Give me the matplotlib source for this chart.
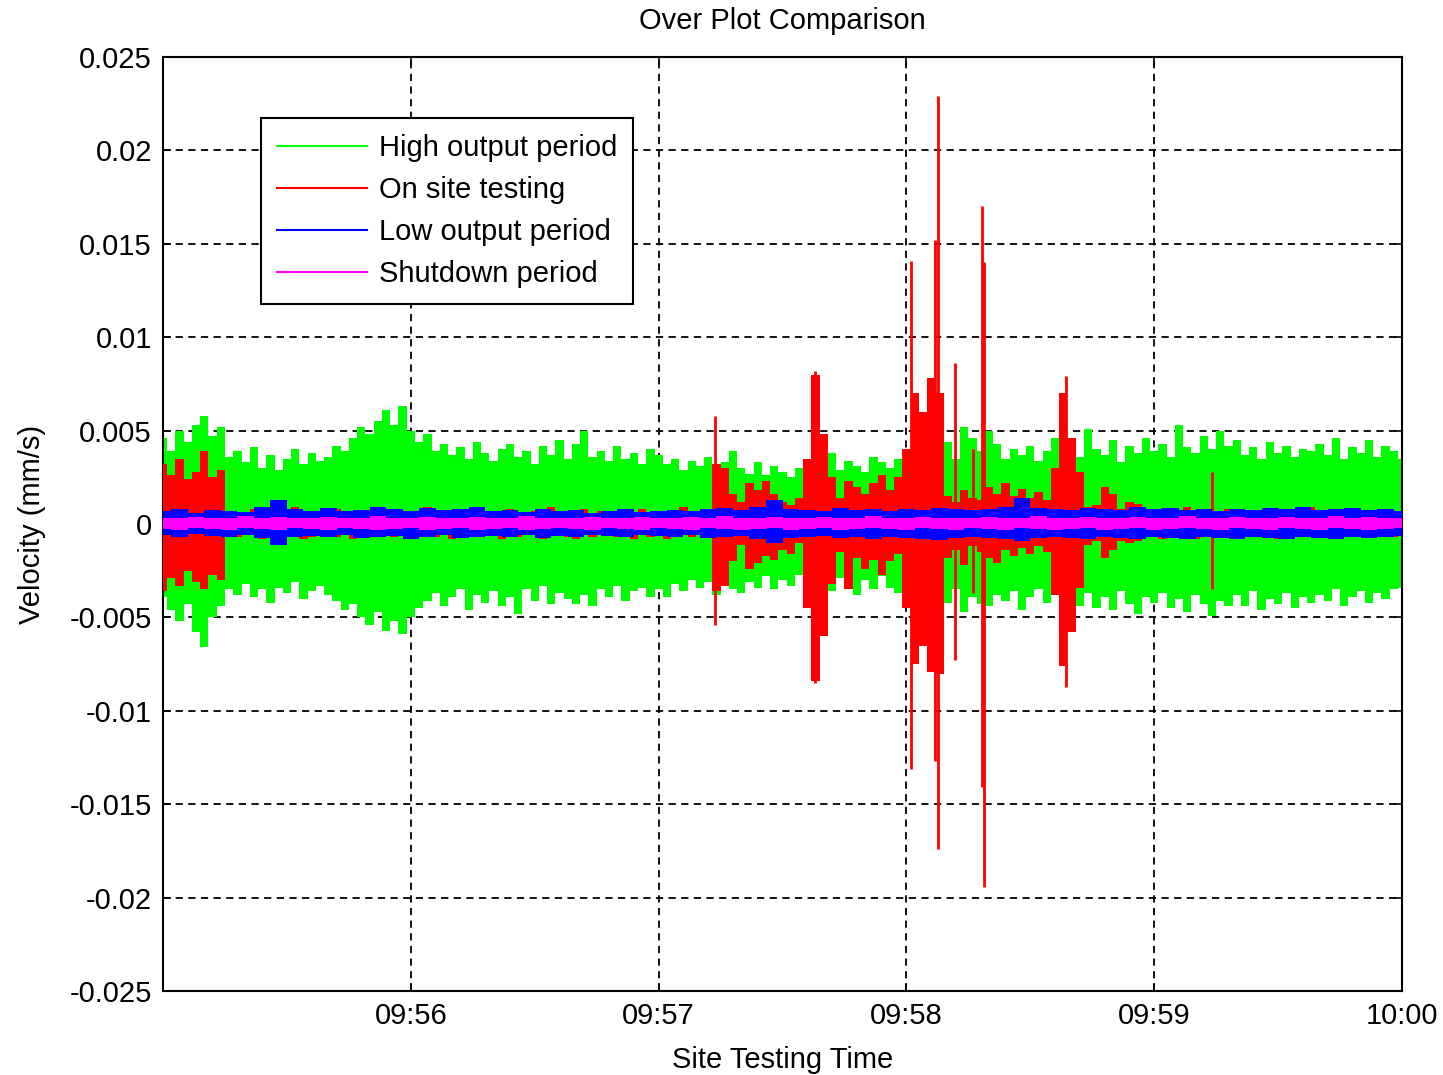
import numpy as np
import matplotlib
matplotlib.use('Agg')
import matplotlib.pyplot as plt
from matplotlib.lines import Line2D

plt.rcParams['font.family'] = ['Liberation Sans', 'DejaVu Sans']

# seconds after 09:55:00; envelopes are in units of 0.001 mm/s
t_fine = np.arange(0, 301, 2)
t_coarse = np.arange(0, 301, 4)

high_up = [4.6, 3.9, 5.0, 4.4, 5.3, 5.8, 4.7, 5.2, 3.6, 3.9,
           3.3, 4.1, 3.0, 3.7, 2.9, 3.5, 4.0, 3.2, 3.8, 3.4,
           3.6, 4.2, 3.9, 4.6, 5.2, 4.8, 5.5, 6.1, 5.3, 6.3,
           5.0, 4.4, 4.8, 3.9, 4.3, 3.7, 4.1, 3.5, 4.4, 3.8,
           3.4, 4.0, 4.3, 3.6, 3.9, 3.2, 4.2, 3.7, 4.5, 3.5,
           4.3, 5.0, 3.6, 3.9, 3.4, 4.2, 3.5, 3.8, 3.2, 4.0,
           3.7, 3.2, 3.5, 2.9, 3.4, 3.1, 3.6, 2.8, 3.3, 3.9,
           3.0, 2.7, 3.3, 2.6, 3.1, 2.8, 2.5, 3.0, 2.7, 2.9,
           3.2, 3.8, 2.9, 3.4, 3.1, 2.8, 3.6, 3.3, 3.0, 3.5,
           3.3, 3.6, 3.0, 4.1, 3.8, 4.4, 3.5, 5.2, 4.6, 3.9,
           5.0, 4.3, 3.5, 4.0, 3.7, 4.2, 3.4, 3.9, 4.6, 3.8,
           4.4, 3.6, 5.1, 4.0, 3.7, 4.5, 3.3, 4.2, 3.8, 4.6,
           3.9, 4.3, 3.6, 5.3, 4.1, 3.8, 4.7, 4.0, 5.0, 4.2,
           4.5, 3.7, 4.1, 3.5, 4.4, 3.8, 4.2, 3.6, 4.0, 3.9,
           4.3, 3.7, 4.6, 3.5, 4.1, 3.8, 4.5, 3.6, 4.2, 3.9, 3.5]
high_lo = [3.9, 4.6, 5.2, 4.3, 5.8, 6.6, 5.0, 4.4, 3.5, 3.8,
           3.2, 3.9, 3.5, 4.2, 3.4, 3.7, 3.1, 4.0, 3.6, 3.3,
           3.8, 4.1, 4.6, 4.3, 5.0, 5.4, 4.7, 5.7, 5.2, 5.9,
           5.0, 4.5, 4.1, 3.7, 4.4, 3.9, 3.5, 4.6, 3.8, 4.2,
           3.6, 4.4, 3.9, 4.8, 3.5, 4.1, 3.3, 4.3, 3.7, 4.0,
           4.3, 3.8, 4.4, 3.5, 3.9, 3.3, 4.1, 3.6, 3.4, 3.9,
           3.5, 3.9, 3.2, 3.6, 3.0, 3.4, 3.1, 3.8, 2.9, 3.5,
           3.7, 3.1, 3.4, 2.8, 3.5, 3.0, 3.3, 2.7, 3.2, 3.0,
           3.1, 3.6, 2.9, 3.3, 3.8, 3.0, 3.5, 2.8, 3.4, 3.7,
           3.6, 4.0, 3.3, 4.5, 3.8, 4.2, 3.5, 4.7, 3.9, 4.3,
           4.4, 3.8, 4.1, 3.6, 4.6, 3.9, 3.5, 4.2, 3.7, 4.4,
           4.0, 4.4, 3.7, 4.5, 3.9, 4.6, 3.6, 4.3, 4.8, 3.9,
           4.2, 3.7, 4.5, 4.0, 4.7, 3.8, 4.3, 4.9, 4.1, 4.4,
           3.8, 4.4, 3.6, 4.6, 4.0, 4.3, 3.7, 4.5, 3.9, 4.2,
           3.8, 4.1, 3.5, 4.4, 3.9, 3.6, 4.2, 3.7, 4.0, 3.5, 3.4]

test_up = [3.2, 2.6, 3.5, 2.4, 2.8, 3.9, 2.5, 2.9,
           0.7, 0.5, 0.6, 0.8, 0.6, 0.5, 0.7, 0.6, 0.9, 0.6,
           0.5, 0.7, 0.6, 0.8, 0.5, 0.6, 0.7, 0.6, 0.5, 0.8,
           0.6, 0.7, 0.5, 0.6, 0.9, 0.6, 0.7, 0.5, 0.6, 0.8,
           0.6, 0.5, 0.7, 0.6, 0.8, 0.6, 0.5, 0.7, 0.6, 0.9,
           0.7, 0.6, 0.5, 0.8, 0.6, 0.7, 0.6, 0.5, 0.7, 0.6,
           0.8, 0.6, 0.5, 0.7, 0.6, 0.9, 0.7, 0.6, 0.8,
           3.2, 3.0, 1.6, 1.2, 2.2, 1.8, 2.3, 1.6, 1.2, 1.0, 1.4,
           3.5, 8.0, 4.8, 2.5, 1.4, 2.3, 2.0, 1.6, 2.2, 2.6, 1.8, 2.5,
           4.0, 7.0, 6.0, 7.8, 7.0, 1.5, 1.2, 1.8, 1.4, 1.3,
           2.0, 1.6, 2.2, 1.5, 1.9, 1.4, 1.7,
           1.3, 3.0, 7.0, 4.6, 2.8, 0.9, 1.0, 2.0, 1.6, 0.8, 1.2, 1.1,
           0.6, 0.8, 0.5, 0.7, 0.6, 0.9, 0.6, 0.5, 0.7, 0.6,
           0.8, 0.6, 0.7, 0.5, 0.6, 0.8, 0.6, 0.7, 0.5, 0.6,
           0.9, 0.6, 0.7, 0.5, 0.6, 0.8, 0.7, 0.6, 0.5, 0.7,
           0.6, 0.6]
test_lo = [3.6, 2.9, 3.3, 2.5, 3.1, 3.5, 2.7, 3.0,
           0.6, 0.7, 0.5, 0.6, 0.8, 0.6, 0.5, 0.7, 0.6, 0.8,
           0.7, 0.5, 0.6, 0.7, 0.6, 0.8, 0.5, 0.7, 0.6, 0.5,
           0.7, 0.6, 0.8, 0.5, 0.6, 0.7, 0.6, 0.8, 0.5, 0.6,
           0.7, 0.6, 0.5, 0.8, 0.6, 0.7, 0.6, 0.5, 0.8, 0.6,
           0.6, 0.7, 0.8, 0.5, 0.7, 0.6, 0.5, 0.7, 0.6, 0.8,
           0.5, 0.7, 0.6, 0.8, 0.6, 0.5, 0.7, 0.6, 0.6,
           3.6, 3.3, 2.0, 1.1, 2.4, 2.1, 1.7, 1.9, 1.4, 1.6, 1.0,
           4.5, 8.4, 6.0, 3.2, 1.5, 3.5, 1.8, 2.4, 1.9, 2.7, 2.0, 1.6,
           4.5, 7.5, 6.5, 7.9, 8.0, 1.8, 1.4, 2.2, 1.2, 1.5,
           1.8, 2.1, 1.4, 1.7, 1.3, 1.6, 1.2,
           1.5, 3.8, 7.6, 5.8, 3.4, 1.1, 0.9, 1.8, 1.4, 0.9, 1.0, 0.9,
           0.7, 0.6, 0.8, 0.5, 0.7, 0.6, 0.8, 0.6, 0.5, 0.7,
           0.6, 0.8, 0.5, 0.7, 0.6, 0.6, 0.8, 0.5, 0.7, 0.6,
           0.6, 0.7, 0.5, 0.8, 0.6, 0.7, 0.6, 0.5, 0.7, 0.6,
           0.7, 0.6]

# single tall bursts of the on-site test signal
spike_t = [133.6, 157.9, 181.0, 186.9, 187.6, 191.8, 196.0, 198.2, 198.7, 218.6, 254.0]
spike_top = [5.8, 8.2, 14.1, 15.2, 22.9, 8.6, 4.0, 17.0, 14.0, 7.9, 2.8]
spike_bot = [-5.4, -8.5, -13.1, -12.7, -17.4, -7.3, -3.7, -14.1, -19.4, -8.7, -3.5]

low_up = [0.7, 0.8, 0.6, 0.75, 0.7, 0.65, 0.9, 1.3, 0.8, 0.7,
          0.85, 0.7, 0.75, 0.9, 0.8, 0.7, 0.85, 0.75, 0.8, 0.9,
          0.7, 0.75, 0.65, 0.8, 0.7, 0.75, 0.6, 0.7, 0.8, 0.65,
          0.7, 0.75, 0.7, 0.8, 0.85, 0.75, 0.9, 1.3, 0.8, 0.75,
          0.7, 0.85, 0.75, 0.8, 0.7, 0.8, 0.75, 0.85, 0.8, 0.75,
          0.8, 0.9, 1.4, 0.85, 0.8, 0.75, 0.85, 0.8, 0.75, 0.9,
          0.8, 0.85, 0.75, 0.8, 0.7, 0.8, 0.75, 0.85, 0.8, 0.9,
          0.75, 0.8, 0.85, 0.75, 0.8, 0.7]
low_lo = [0.6, 0.7, 0.55, 0.65, 0.7, 0.6, 0.75, 1.1, 0.7, 0.65,
          0.7, 0.6, 0.75, 0.7, 0.65, 0.8, 0.7, 0.6, 0.75, 0.7,
          0.65, 0.7, 0.6, 0.75, 0.65, 0.7, 0.6, 0.65, 0.7, 0.6,
          0.65, 0.7, 0.6, 0.75, 0.7, 0.65, 0.8, 1.0, 0.75, 0.7,
          0.65, 0.75, 0.7, 0.8, 0.7, 0.75, 0.8, 0.85, 0.75, 0.7,
          0.75, 0.8, 0.9, 0.75, 0.7, 0.75, 0.8, 0.7, 0.75, 0.8,
          0.7, 0.75, 0.8, 0.7, 0.75, 0.8, 0.7, 0.75, 0.8, 0.7,
          0.75, 0.8, 0.7, 0.75, 0.7, 0.65]

shut_up = [0.35, 0.3, 0.4, 0.3, 0.35, 0.45, 0.3, 0.4, 0.35, 0.3,
           0.4, 0.35, 0.3, 0.45, 0.35, 0.3, 0.4, 0.3, 0.35, 0.4,
           0.3, 0.35, 0.45, 0.3, 0.35, 0.3, 0.4, 0.35, 0.3, 0.4,
           0.35, 0.3, 0.4, 0.35, 0.45, 0.3, 0.35, 0.4, 0.3, 0.35,
           0.4, 0.3, 0.35, 0.45, 0.3, 0.35, 0.4, 0.3, 0.35, 0.3,
           0.4, 0.35, 0.3, 0.45, 0.35, 0.3, 0.4, 0.35, 0.3, 0.4,
           0.35, 0.3, 0.45, 0.35, 0.3, 0.4, 0.35, 0.3, 0.4, 0.35,
           0.3, 0.45, 0.35, 0.4, 0.35, 0.3]
shut_lo = [0.25, 0.3, 0.2, 0.25, 0.3, 0.2, 0.25, 0.3, 0.2, 0.25,
           0.3, 0.2, 0.25, 0.3, 0.25, 0.2, 0.3, 0.25, 0.2, 0.3,
           0.25, 0.2, 0.3, 0.25, 0.2, 0.25, 0.3, 0.2, 0.25, 0.3,
           0.2, 0.25, 0.3, 0.2, 0.25, 0.3, 0.25, 0.2, 0.3, 0.25,
           0.2, 0.3, 0.25, 0.2, 0.25, 0.3, 0.2, 0.25, 0.3, 0.2,
           0.25, 0.3, 0.2, 0.25, 0.3, 0.25, 0.2, 0.3, 0.25, 0.2,
           0.3, 0.25, 0.2, 0.25, 0.3, 0.2, 0.25, 0.3, 0.2, 0.25,
           0.3, 0.2, 0.25, 0.3, 0.25, 0.2]

labels = ['High output period', 'On site testing', 'Low output period', 'Shutdown period']
colors = ['#00ff00', '#ff0000', '#0000ff', '#ff00ff']
x_tick_labels = ['09:56', '09:57', '09:58', '09:59', '10:00']

scale = 1e-3
fig = plt.figure(figsize=(14.43, 10.75), dpi=100)
ax = fig.add_axes([0.113, 0.078, 0.8586, 0.869])

series = [(t_fine, high_up, high_lo), (t_fine, test_up, test_lo),
          (t_coarse, low_up, low_lo), (t_coarse, shut_up, shut_lo)]
for i, (tt, up, lo) in enumerate(series):
    ax.fill_between(tt, np.array(up) * scale, -np.array(lo) * scale,
                    step='mid', color=colors[i], linewidth=0, zorder=2 + i)
    if i == 1:
        ax.vlines(spike_t, np.array(spike_bot) * scale, np.array(spike_top) * scale,
                  color=colors[1], linewidth=2, zorder=3)

ax.set_xlim(0, 300)
ax.set_ylim(-0.025, 0.025)
ax.set_xticks([60, 120, 180, 240, 300])
ax.set_xticklabels(x_tick_labels)
yt = np.linspace(-0.025, 0.025, 11)
ax.set_yticks(yt)
ax.set_yticklabels(['%g' % round(v, 3) for v in yt])
ax.tick_params(direction='in', length=6, width=1.2, top=True, right=True,
               labelsize=21, pad=8)
ax.set_axisbelow(True)
ax.grid(True, color='k', linestyle=(0, (4, 3)), linewidth=1.3)
for s in ax.spines.values():
    s.set_linewidth(1.5)

ax.set_title('Over Plot Comparison', fontsize=21, pad=20)
ax.set_xlabel('Site Testing Time', fontsize=21, labelpad=11)
ax.set_ylabel('Velocity (mm/s)', fontsize=21, labelpad=17)

handles = [Line2D([], [], color=c, linewidth=1.5) for c in colors]
leg = ax.legend(handles, labels, loc='upper left', bbox_to_anchor=(0.079, 0.935),
                borderaxespad=0, fontsize=21, handlelength=3.1, handletextpad=0.4,
                labelspacing=0.48, borderpad=0.55, fancybox=False, framealpha=1)
leg.get_frame().set_edgecolor('k')
leg.get_frame().set_linewidth(1.5)

fig.savefig('out.png', dpi=100)
